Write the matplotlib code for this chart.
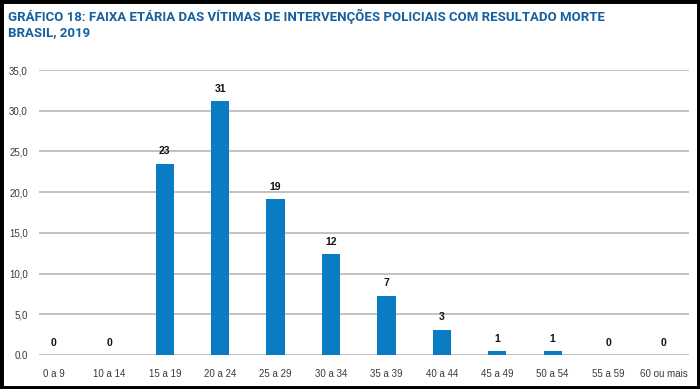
import matplotlib.pyplot as plt
from matplotlib.patches import Rectangle

# Faixa etaria das vitimas (%)
faixas = ['0 a 9', '10 a 14', '15 a 19', '20 a 24', '25 a 29', '30 a 34',
          '35 a 39', '40 a 44', '45 a 49', '50 a 54', '55 a 59', '60 ou mais']
valores = [0.0, 0.0, 23.5, 31.2, 19.1, 12.4, 7.3, 3.1, 0.45, 0.45, 0.0, 0.0]
rotulos = ['0', '0', '23', '31', '19', '12', '7', '3', '1', '1', '0', '0']
yticks = [0, 5, 10, 15, 20, 25, 30, 35]

fonte = ['Liberation Sans', 'DejaVu Sans']
fonte_tit = ['Roboto', 'DejaVu Sans']

fig = plt.figure(figsize=(7, 3.89), dpi=100)
ax = fig.add_axes([39/700, 1 - 355/389, 650/700, 285/389])

x = list(range(len(faixas)))
ax.bar(x, valores, width=0.33, color='#0a7cc4', zorder=3)
for i, (v, r) in enumerate(zip(valores, rotulos)):
    ax.text(i, v + 0.9, r, ha='center', va='bottom', fontsize=7.5,
            fontweight='bold', family=fonte, color='#111111')

ax.set_xlim(-0.27, 11.46)
ax.set_ylim(0, 35)
ax.set_yticks(yticks)
ax.set_yticklabels(['{:.1f}'.format(t).replace('.', ',') if t else '0.0' for t in yticks],
                   family=fonte, fontsize=7, color='#3a3a3a')
ax.set_xticks(x)
ax.set_xticklabels(faixas, family=fonte, fontsize=7, color='#3a3a3a')
ax.tick_params(axis='both', length=0, pad=8)
ax.tick_params(axis='x', pad=10)
ax.grid(axis='y', color='#bdbdbd', linewidth=1.3, zorder=0)
for s in ax.spines.values():
    s.set_visible(False)

t1 = fig.text(8/700, 1 - 16/389, 'GRÁFICO 18: FAIXA ETÁRIA DAS VÍTIMAS DE INTERVENÇÕES POLICIAIS COM RESULTADO MORTE',
              fontsize=10, fontweight='bold', color='#16609f', family=fonte_tit, va='center')
t2 = fig.text(8/700, 1 - 33/389, 'BRASIL, 2019',
              fontsize=10, fontweight='bold', color='#16609f', family=fonte_tit, va='center')

# ajusta o tamanho do titulo para caber na largura do original (~597 px)
r = fig.canvas.get_renderer()
w = t1.get_window_extent(r).width
tam = 10 * 597 / w
t1.set_fontsize(tam)
t2.set_fontsize(tam)

# moldura preta
fig.patches.append(Rectangle((0, 0), 1, 1, transform=fig.transFigure, fill=False,
                             edgecolor='black', linewidth=5))

fig.savefig('out.png', dpi=100)
